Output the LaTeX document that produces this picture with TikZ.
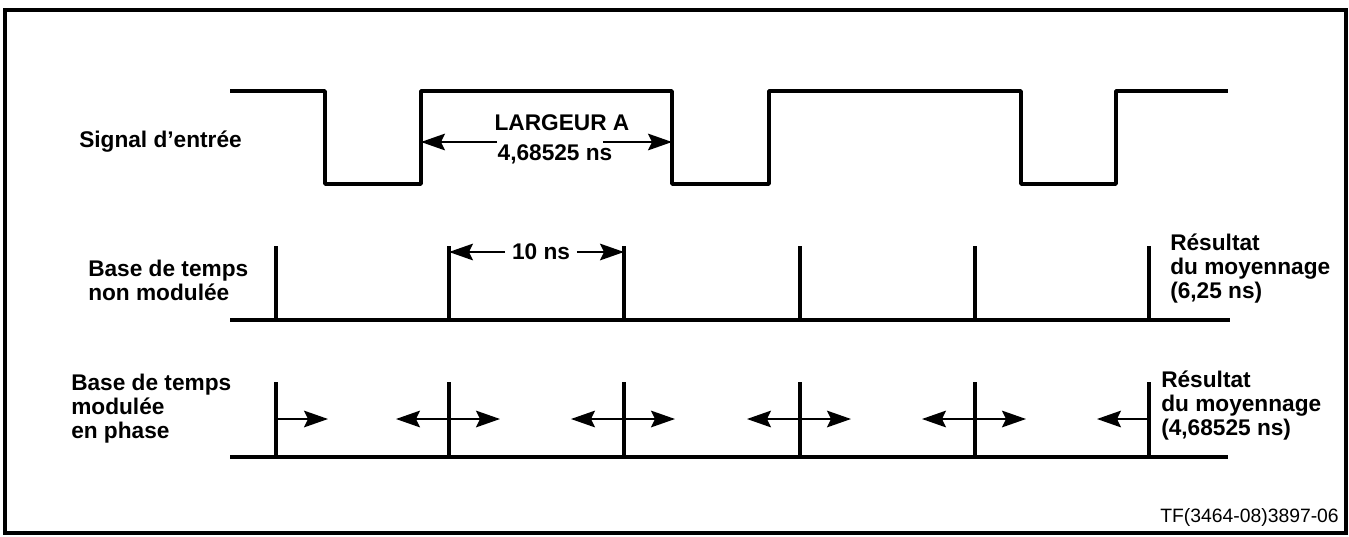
\documentclass[tikz,border=0pt]{standalone}
\usepackage{fontspec}
\setmainfont{Liberation Sans}
\usetikzlibrary{arrows.meta,positioning}

\begin{document}
\begin{tikzpicture}[x=0.75pt, y=-0.75pt,
    wave/.style={line width=2.7pt, line join=round},
    dim/.style={line width=1.4pt, -{Stealth[length=18pt,width=12.5pt,inset=3pt]}},
    lbl/.style={font=\fontsize{17}{18}\selectfont\bfseries, inner sep=0pt, align=left, anchor=west}]
    \useasboundingbox (0,0) rectangle (1349,536);
    \draw[line width=2.6pt] (5,10) rectangle (1346,533);
    \draw[wave] (230,91) -- (325,91) -- (325,184) -- (421,184) -- (421,91) -- (672,91) -- (672,184)
        -- (769,184) -- (769,91) -- (1021,91) -- (1021,184) -- (1116,184) -- (1116,91) -- (1228,91);
    \node[lbl] (sig) at (79,142) {Signal d’entrée};
    \node[lbl, anchor=center] (larg) at (562,123) {LARGEUR A};
    \node[lbl, anchor=center] (val) at (555,154) {4,68525 ns};
    \coordinate (a1) at (497,142);
    \coordinate (a2) at (421,142);
    \coordinate (a3) at (603,142);
    \coordinate (a4) at (672,142);
    \draw[dim] (a1) -- (a2);
    \draw[dim] (a3) -- (a4);
    \draw[wave] (230,320) -- (1230,320);
    \foreach \x in {276,449,624,800,975,1149}
        \draw[wave] (\x,246) -- (\x,320);
    \node[lbl, anchor=center, inner xsep=5pt] (dix) at (541,252) {10 ns};
    \coordinate (d1) at (449,252);
    \coordinate (d2) at (624,252);
    \draw[dim] (dix) -- (d1);
    \draw[dim] (dix) -- (d2);
    \node[lbl] (bt1) at (88,280) {Base de temps\\non modulée};
    \node[lbl] (res1) at (1170,269) {Résultat\\du moyennage\\(6,25 ns)};
    \draw[wave] (230,457) -- (1228,457);
    \foreach \x in {276,449,624,800,975,1149}
        \draw[wave] (\x,382) -- (\x,457);
    \coordinate (m0) at (276,419);
    \coordinate (r0) at (328,419);
    \draw[dim] (m0) -- (r0);
    \foreach \x [count=\i] in {449,624,800,975} {
        \coordinate (m\i) at (\x,419);
        \coordinate (l\i) at (\x-53,419);
        \coordinate (r\i) at (\x+51,419);
        \draw[dim] (m\i) -- (l\i);
        \draw[dim] (m\i) -- (r\i);
    }
    \coordinate (m5) at (1149,419);
    \coordinate (l5) at (1097,419);
    \draw[dim] (m5) -- (l5);
    \node[lbl] (bt2) at (71,409) {Base de temps\\modulée\\en phase};
    \node[lbl] (res2) at (1161,406) {Résultat\\du moyennage\\(4,68525 ns)};
    \node[font=\fontsize{14.5}{16}\selectfont, inner sep=0pt, anchor=east] (ref) at (1339,517) {TF(3464-08)3897-06};
\end{tikzpicture}
\end{document}
